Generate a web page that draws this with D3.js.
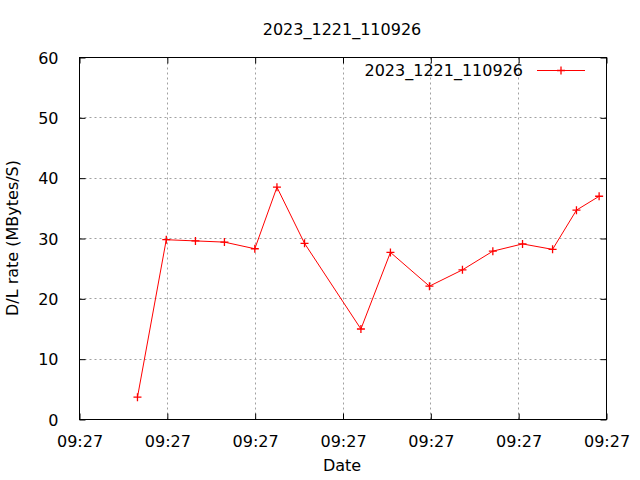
<!DOCTYPE html>
<html><head><meta charset="utf-8">
<script src="https://cdn.jsdelivr.net/npm/d3@7"></script>
<style>body{margin:0;background:#fff}svg{display:block}text{font-family:"DejaVu Sans",sans-serif;font-size:16px;fill:#000}</style>
</head><body><div id="chart"></div>
<script>
const title = "2023_1221_110926";
const seriesName = "2023_1221_110926";
const baseTime = "2023-12-21T09:27:00";
// seconds after base time
const seconds = [3.30, 4.94, 6.60, 8.25, 9.98, 11.24, 12.81, 16.02, 17.70, 19.92, 21.80, 23.53, 25.22, 26.93, 28.29, 29.58];
const rates = [3.7, 29.8, 29.6, 29.4, 28.3, 38.5, 29.2, 15.0, 27.7, 22.1, 24.8, 27.9, 29.1, 28.2, 34.7, 37.0];
const xTickSeconds = [0, 5, 10, 15, 20, 25, 30];
const yTicks = [0, 10, 20, 30, 40, 50, 60];

const W = 640, H = 480;
const L = 79.5, R = 606.5, T = 57.5, B = 419.5;
const base = new Date(baseTime).getTime();
const toDate = s => new Date(base + s * 1000);
const data = seconds.map((s, i) => ({t: toDate(s), v: rates[i]}));

const svg = d3.select("#chart").append("svg").attr("width", W).attr("height", H);
const x = d3.scaleTime().domain([toDate(0), toDate(30)]).range([L, R]);
const y = d3.scaleLinear().domain([0, 60]).range([B, T]);
const fmt = d3.timeFormat("%H:%M");

// grid
const grid = svg.append("g").attr("stroke", "#a0a0a0").attr("stroke-dasharray", "2,3").attr("stroke-width", 1);
xTickSeconds.slice(1, -1).forEach(s => {
  const px = Math.floor(x(toDate(s))) + 0.5;
  grid.append("line").attr("x1", px).attr("x2", px).attr("y1", T).attr("y2", B);
});
yTicks.slice(1, -1).forEach(v => {
  const py = Math.floor(y(v)) + 0.5;
  grid.append("line").attr("y1", py).attr("y2", py).attr("x1", L).attr("x2", R);
});

// axes using d3 axis generators (inward ticks)
const xAxis = d3.axisBottom(x).tickValues(xTickSeconds.map(toDate)).tickFormat(fmt).tickSizeInner(-6).tickSizeOuter(0).tickPadding(16);
const gx = svg.append("g").attr("transform", `translate(0,${B})`).call(xAxis);
const xTop = d3.axisTop(x).tickValues(xTickSeconds.map(toDate)).tickFormat("").tickSizeInner(-6).tickSizeOuter(0);
const gxt = svg.append("g").attr("transform", `translate(0,${T})`).call(xTop);
const yAxis = d3.axisLeft(y).tickValues(yTicks).tickSizeInner(-6).tickSizeOuter(0).tickPadding(21);
const gy = svg.append("g").attr("transform", `translate(${L},0)`).call(yAxis);
const yRight = d3.axisRight(y).tickValues(yTicks).tickFormat("").tickSizeInner(-6).tickSizeOuter(0);
const gyr = svg.append("g").attr("transform", `translate(${R},0)`).call(yRight);
[gx, gxt, gy, gyr].forEach(g => {
  g.select(".domain").remove();
  g.selectAll("line").attr("stroke", "#000");
  g.selectAll("text").attr("font-family", "DejaVu Sans").attr("font-size", 16).attr("fill", "#000");
});
gy.selectAll(".tick text").attr("dy", "0.36em");

// border
svg.append("rect").attr("x", L).attr("y", T).attr("width", R - L).attr("height", B - T)
  .attr("fill", "none").attr("stroke", "#000").attr("stroke-width", 1);

// line
const line = d3.line().x(d => x(d.t)).y(d => y(d.v));
svg.append("path").datum(data).attr("d", line).attr("fill", "none").attr("stroke", "#ff0000").attr("stroke-width", 1);
const plus = (g, cx, cy) => {
  g.append("path").attr("d", `M${cx - 4},${cy}H${cx + 4}M${cx},${cy - 4}V${cy + 4}`)
    .attr("stroke", "#ff0000").attr("stroke-width", 1.3).attr("fill", "none");
};
const mk = svg.append("g");
data.forEach(d => plus(mk, x(d.t), y(d.v)));

// legend
svg.append("text").attr("x", 523).attr("y", 75.5).attr("text-anchor", "end").text(seriesName);
svg.append("line").attr("x1", 537).attr("x2", 585).attr("y1", 70.5).attr("y2", 70.5).attr("stroke", "#ff0000").attr("stroke-width", 1);
plus(svg, 561, 70.5);

// titles
svg.append("text").attr("x", 342).attr("y", 35).attr("text-anchor", "middle").text(title);
svg.append("text").attr("x", 342).attr("y", 471).attr("text-anchor", "middle").text("Date");
svg.append("text").attr("transform", `translate(18,238) rotate(-90)`).attr("text-anchor", "middle").text("D/L rate (MBytes/S)");
</script></body></html>
